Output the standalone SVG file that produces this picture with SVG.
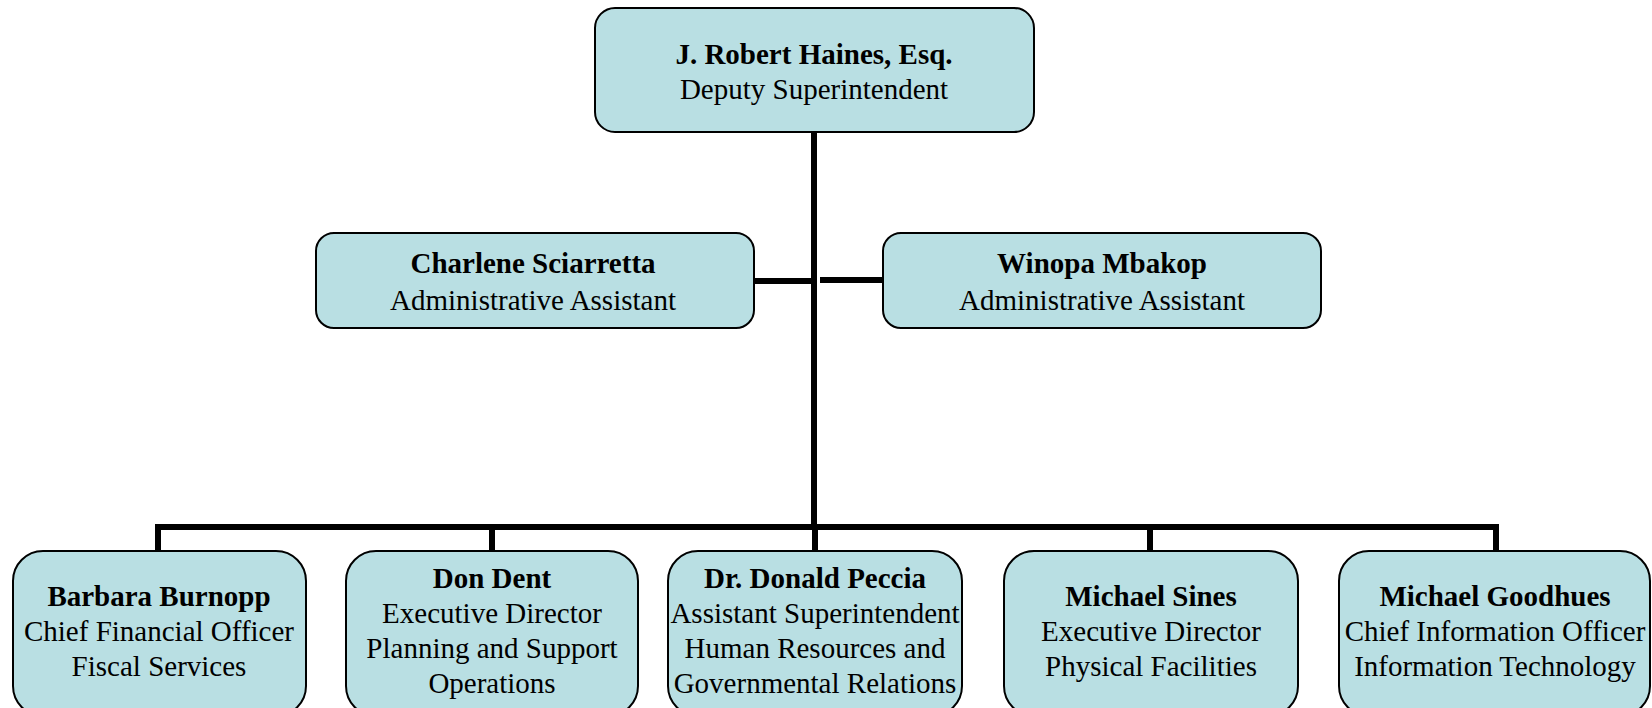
<svg xmlns="http://www.w3.org/2000/svg" width="1652" height="708" viewBox="0 0 1652 708">
<style>
.box{fill:#b9dfe3;stroke:#000;stroke-width:2}
.t{font-family:"Liberation Serif","Times New Roman",serif;font-size:29px;fill:#000;text-anchor:middle}
.b{font-weight:bold}
.c{stroke:#000;stroke-width:6;fill:none}
</style>
<rect width="1652" height="708" fill="#fff"/>
<g id="connectors">
<line class="c" x1="814" y1="132" x2="814" y2="530"/>
<line class="c" x1="754" y1="281" x2="814" y2="281"/>
<line class="c" x1="820" y1="280" x2="883" y2="280"/>
<polyline class="c" points="158,551 158,527 1496,527 1496,551"/>
<line class="c" x1="492" y1="527" x2="492" y2="551"/>
<line class="c" x1="815" y1="527" x2="815" y2="551"/>
<line class="c" x1="1150" y1="527" x2="1150" y2="551"/>
</g>
<g id="haines">
<rect class="box" x="595" y="8" width="439" height="124" rx="20"/>
<text class="t b" x="814" y="64">J. Robert Haines, Esq.</text>
<text class="t" x="814" y="99">Deputy Superintendent</text>
</g>
<g id="sciarretta">
<rect class="box" x="316" y="233" width="438" height="95" rx="18"/>
<text class="t b" x="533" y="273">Charlene Sciarretta</text>
<text class="t" x="533" y="310">Administrative Assistant</text>
</g>
<g id="mbakop">
<rect class="box" x="883" y="233" width="438" height="95" rx="18"/>
<text class="t b" x="1102" y="273">Winopa Mbakop</text>
<text class="t" x="1102" y="310">Administrative Assistant</text>
</g>
<g id="burnopp">
<rect class="box" x="13" y="551" width="293" height="165" rx="30"/>
<text class="t b" x="159" y="606">Barbara Burnopp</text>
<text class="t" x="159" y="641">Chief Financial Officer</text>
<text class="t" x="159" y="676">Fiscal Services</text>
</g>
<g id="dent">
<rect class="box" x="346" y="551" width="292" height="165" rx="30"/>
<text class="t b" x="492" y="588">Don Dent</text>
<text class="t" x="492" y="623">Executive Director</text>
<text class="t" x="492" y="658">Planning and Support</text>
<text class="t" x="492" y="693">Operations</text>
</g>
<g id="peccia">
<rect class="box" x="668" y="551" width="294" height="165" rx="30"/>
<text class="t b" x="815" y="588">Dr. Donald Peccia</text>
<text class="t" x="815" y="623">Assistant Superintendent</text>
<text class="t" x="815" y="658">Human Resources and</text>
<text class="t" x="815" y="693">Governmental Relations</text>
</g>
<g id="sines">
<rect class="box" x="1004" y="551" width="294" height="165" rx="30"/>
<text class="t b" x="1151" y="606">Michael Sines</text>
<text class="t" x="1151" y="641">Executive Director</text>
<text class="t" x="1151" y="676">Physical Facilities</text>
</g>
<g id="goodhues">
<rect class="box" x="1339" y="551" width="311" height="165" rx="30"/>
<text class="t b" x="1495" y="606">Michael Goodhues</text>
<text class="t" x="1495" y="641">Chief Information Officer</text>
<text class="t" x="1495" y="676">Information Technology</text>
</g>
</svg>
